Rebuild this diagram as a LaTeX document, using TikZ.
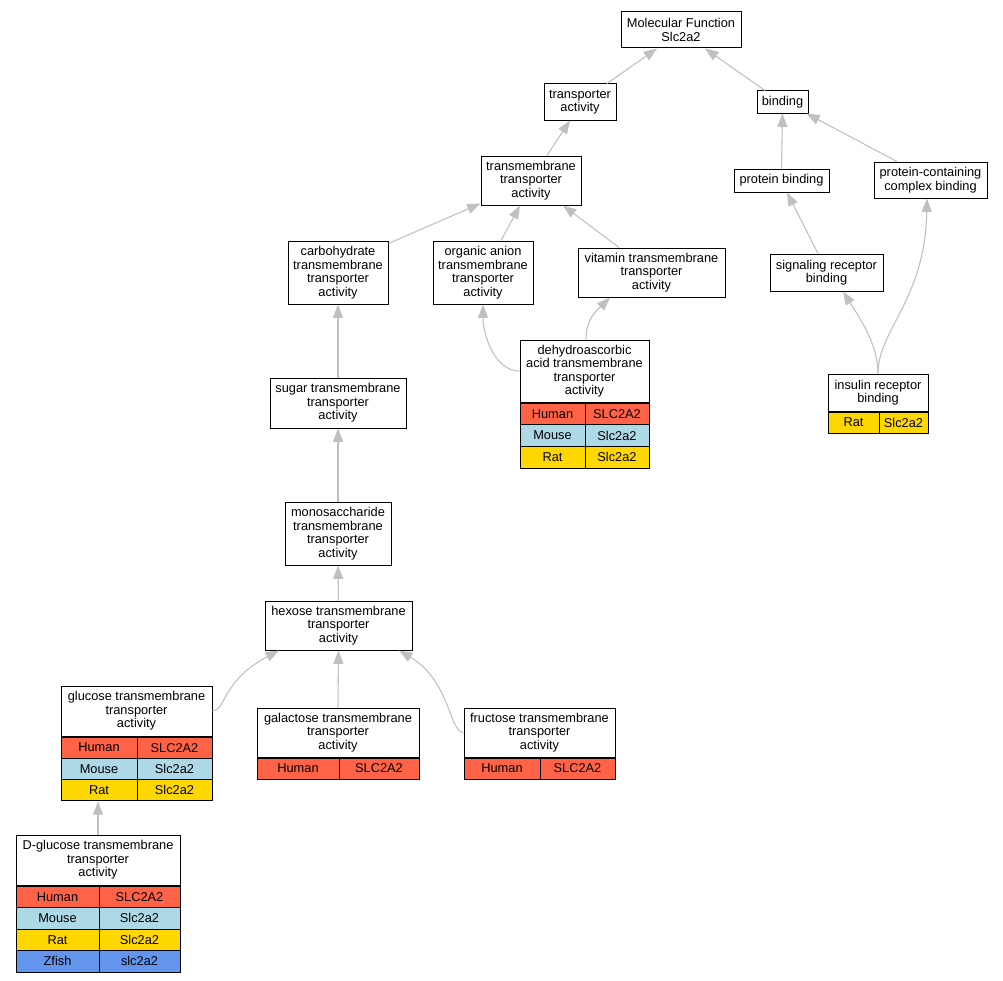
\documentclass[tikz,border=0pt]{standalone}
\usepackage{fontspec}
\setmainfont{Liberation Sans}
\usetikzlibrary{arrows.meta, calc, positioning}
\definecolor{human}{HTML}{FF6347}
\definecolor{mouse}{HTML}{ADD8E6}
\definecolor{rat}{HTML}{FFD700}
\definecolor{zfish}{HTML}{6495ED}
\definecolor{edgegray}{HTML}{C0C0C0}
\tikzset{
  term/.style={draw, fill=white, align=center, inner sep=0pt, line width=0.75pt,
    font=\fontsize{9.6}{10.1}\selectfont},
  wh/.style 2 args={minimum width=#1*0.75pt, minimum height=#2*0.75pt},
  cell/.style={draw, anchor=north west, inner sep=0pt, line width=0.75pt,
    font=\fontsize{9.6}{10.1}\selectfont},
  isa/.style={draw=edgegray, line width=0.8pt, -{Triangle[length=10pt, width=7.5pt]}},
}

\begin{document}
\begin{tikzpicture}[x=0.75pt, y=-0.75pt]
  \useasboundingbox[fill=white] (0,0) rectangle (1003,981);

  % 1) GO terms, top to bottom
  \node[term, wh={120}{36}] (mf)   at (681,30)      {Molecular Function\\Slc2a2};
  \node[term, wh={72}{36}]  (ta)   at (580,102)     {transporter\\activity};
  \node[term, wh={51}{22}]  (bind) at (782.5,102)   {binding};
  \node[term, wh={100}{49}] (tmta) at (531,180.5)   {transmembrane\\transporter\\activity};
  \node[term, wh={95}{23}]  (prot) at (781.5,180.5) {protein binding};
  \node[term, wh={113}{36}] (pccb) at (930.5,180)   {protein-containing\\complex binding};
  \node[term, wh={100}{63}] (carb) at (338,272.5)   {carbohydrate\\transmembrane\\transporter\\activity};
  \node[term, wh={100}{63}] (oan)  at (483,272.5)   {organic anion\\transmembrane\\transporter\\activity};
  \node[term, wh={147}{49}] (vit)  at (651.5,272.5) {vitamin transmembrane\\transporter\\activity};
  \node[term, wh={113}{37}] (sig)  at (826.5,272.5) {signaling receptor\\binding};
  \node[term, wh={129}{62}] (dha)  at (584.5,371)   {dehydroascorbic\\acid transmembrane\\transporter\\activity};
  \node[term, wh={100}{37}] (ins)  at (878,392.5)   {insulin receptor\\binding};
  \node[term, wh={136}{50}] (sug)  at (338,403)     {sugar transmembrane\\transporter\\activity};
  \node[term, wh={106}{63}] (mono) at (338,533.5)   {monosaccharide\\transmembrane\\transporter\\activity};
  \node[term, wh={147}{49}] (hex)  at (338.5,625.5) {hexose transmembrane\\transporter\\activity};
  \node[term, wh={162}{49}] (gal)  at (338,732.5)   {galactose transmembrane\\transporter\\activity};
  \node[term, wh={151}{49}] (fru)  at (539.5,732.5) {fructose transmembrane\\transporter\\activity};
  \node[term, wh={151}{50}] (glu)  at (136.5,711)   {glucose transmembrane\\transporter\\activity};
  \node[term, wh={164}{50}] (dglu) at (98,860)      {D-glucose transmembrane\\transporter\\activity};

  % 2) gene tables under the annotated terms
  \foreach \sp/\gn/\col [count=\i from 0] in {Human/SLC2A2/human, Mouse/Slc2a2/mouse, Rat/Slc2a2/rat} {
    \node[cell, fill=\col, wh={65}{21.7}] (dha-\i a) at ($(dha.south west)+(0,{21.7*\i})$)  {\sp};
    \node[cell, fill=\col, wh={64}{21.7}] (dha-\i b) at ($(dha.south west)+(65,{21.7*\i})$) {\gn};
    \node[cell, fill=\col, wh={76}{21.3}] (glu-\i a) at ($(glu.south west)+(0,{21.3*\i})$)  {\sp};
    \node[cell, fill=\col, wh={75}{21.3}] (glu-\i b) at ($(glu.south west)+(76,{21.3*\i})$) {\gn};
  }
  \foreach \sp/\gn/\col [count=\i from 0] in {Human/SLC2A2/human, Mouse/Slc2a2/mouse, Rat/Slc2a2/rat, Zfish/slc2a2/zfish} {
    \node[cell, fill=\col, wh={83}{21.5}] (dglu-\i a) at ($(dglu.south west)+(0,{21.5*\i})$)  {\sp};
    \node[cell, fill=\col, wh={81}{21.5}] (dglu-\i b) at ($(dglu.south west)+(83,{21.5*\i})$) {\gn};
  }
  \node[cell, fill=rat,   wh={51}{21}] (ins-0a) at (ins.south west)          {Rat};
  \node[cell, fill=rat,   wh={49}{21}] (ins-0b) at ($(ins.south west)+(51,0)$) {Slc2a2};
  \node[cell, fill=human, wh={82}{21}] (gal-0a) at (gal.south west)          {Human};
  \node[cell, fill=human, wh={80}{21}] (gal-0b) at ($(gal.south west)+(82,0)$) {SLC2A2};
  \node[cell, fill=human, wh={76}{21}] (fru-0a) at (fru.south west)          {Human};
  \node[cell, fill=human, wh={75}{21}] (fru-0b) at ($(fru.south west)+(76,0)$) {SLC2A2};

  % 3) is_a edges, child to parent
  \draw[isa] ($(ta.north)+(27,0)$) -- ($(mf.south)+(-24,0)$);
  \draw[isa] ($(bind.north)+(-17.5,0)$) -- ($(mf.south)+(24,0)$);
  \draw[isa] ($(tmta.north)+(16,0)$) -- ($(ta.south)+(-10,0)$);
  \draw[isa] (prot.north) -- (bind.south);
  \draw[isa] ($(pccb.north)+(-33.5,0)$) -- ($(bind.south east)+(-2,0)$);
  \draw[isa] ($(carb.north east)+(0,3)$) -- ($(tmta.south west)+(0,-2)$);
  \draw[isa] ($(oan.north)+(18,0)$) -- ($(tmta.south)+(-11,0)$);
  \draw[isa] ($(vit.north)+(-32.5,0)$) -- ($(tmta.south)+(32,0)$);
  \draw[isa] ($(sig.north)+(-8.5,0)$) -- ($(prot.south)+(5.5,0)$);
  \draw[isa] (sug.north) -- (carb.south);
  \draw[isa] (dha.west) .. controls +(-25,0) and +(0,30) .. (oan.south);
  \draw[isa] ($(dha.north)+(1.5,0)$) .. controls +(0,-22) and +(-12,12) .. ($(vit.south)+(-41.5,0)$);
  \draw[isa] (ins.north) .. controls +(0,-29) and +(17,27) .. ($(sig.south)+(16.5,0)$);
  \draw[isa] (ins.north) .. controls +(0,-44) and +(-2,102) .. ($(pccb.south)+(-3.5,0)$);
  \draw[isa] (mono.north) -- (sug.south);
  \draw[isa] (hex.north) -- (mono.south);
  \draw[isa] (glu.east) .. controls +(13,0) and +(-57,30) .. ($(hex.south)+(-59.5,0)$);
  \draw[isa] (gal.north) -- (hex.south);
  \draw[isa] (fru.west) .. controls +(-14,0) and +(51,30) .. ($(hex.south)+(60.5,0)$);
  \draw[isa] (dglu.north) -- (dglu.north |- glu-2a.south);
\end{tikzpicture}
\end{document}
